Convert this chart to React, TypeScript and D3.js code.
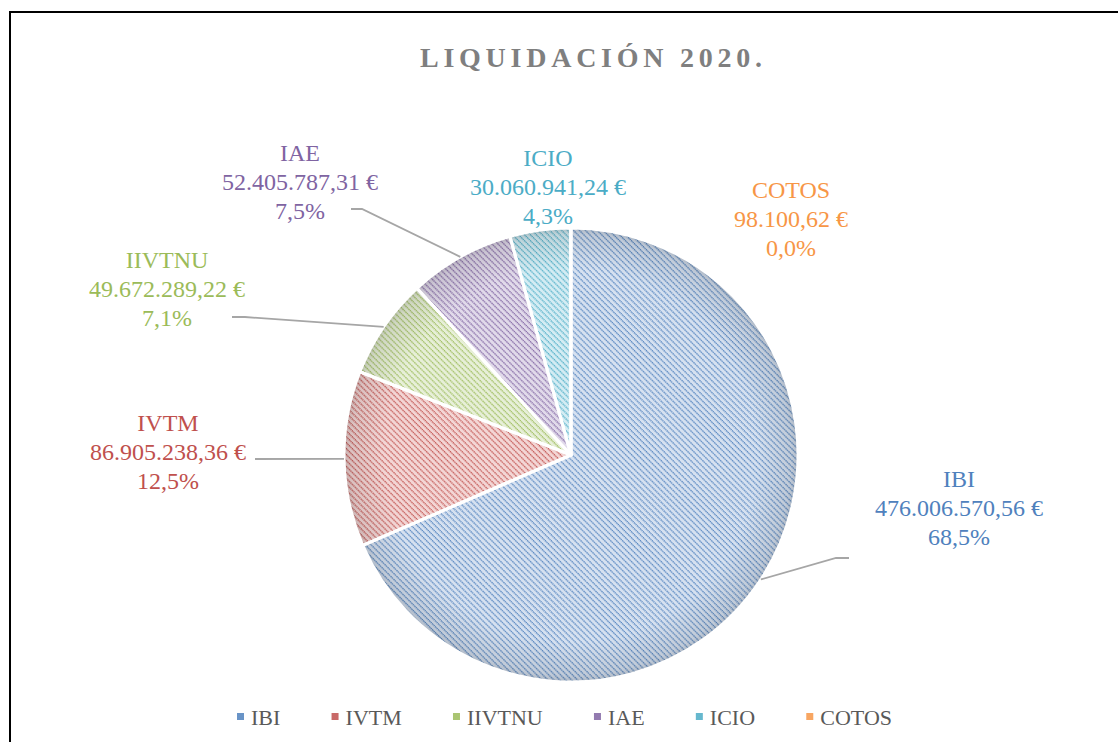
import React from "react";
import * as d3 from "d3";

// datos de la liquidación 2020
const categories = ["IBI", "IVTM", "IIVTNU", "IAE", "ICIO", "COTOS"];
const values = [476006570.56, 86905238.36, 49672289.22, 52405787.31, 30060941.24, 98100.62];
const colors = ["#4F81BD", "#C0504D", "#9BBB59", "#8064A2", "#4BACC6", "#F79646"];
const tints = ["#D6E1F0", "#F3D6D5", "#E7EFD8", "#E1DAEA", "#D4ECF3", "#FDE5D2"];

const title = "LIQUIDACIÓN 2020.";

// placement of the data labels (relative to pie centre)
const labelLayout = [
  { dx: 388, dy: 53, leader: [[278, 103], [265, 103]] },
  { dx: -403, dy: -3, leader: [[-316, 4]] },
  { dx: -404, dy: -166, leader: [[-339, -138], [-326, -138]] },
  { dx: -271, dy: -273, leader: [[-220, -246], [-209, -246]] },
  { dx: -23, dy: -268, leader: null },
  { dx: 220, dy: -236, leader: null },
];

const W = 1118;
const H = 742;
const cx = 571;
const cy = 455;
const radius = 227;
const FONT = "Liberation Serif";

const es = d3.formatLocale({
  decimal: ",",
  thousands: ".",
  grouping: [3],
  currency: ["", " €"],
});
const fmtMoney = es.format("$,.2f");
const fmtPct = es.format(".1%");

const ctx = document.createElement("canvas").getContext("2d")!;
function measure(s: string, size: number, weight = "normal") {
  ctx.font = `${weight} ${size}px "${FONT}"`;
  return ctx.measureText(s).width;
}

export default function App() {
  const total = d3.sum(values);
  const pie = d3.pie<number>().sort(null).value((d) => d);
  const arcs = pie(values);
  const arc = d3.arc<d3.PieArcDatum<number>>().innerRadius(0).outerRadius(radius);

  const edgePoint = (a: d3.PieArcDatum<number>) => {
    const m = (a.startAngle + a.endAngle) / 2;
    return [Math.sin(m) * radius, -Math.cos(m) * radius];
  };

  // title spread between x=420 and x=762
  const titleSize = 28;
  const titleNat = measure(title, titleSize, "bold");
  const titleSpacing = (342 - titleNat) / (title.length - 1);

  // legend: first box at 240, last text ends at 892
  const legendFont = 22;
  const boxGap = 11;
  const widths = categories.map((c) => boxGap + measure(c, legendFont));
  const gap = (652 - d3.sum(widths)) / (categories.length - 1);
  let lx = 0;
  const legendItems = categories.map((c, i) => {
    const item = { c, i, x: lx };
    lx += widths[i] + gap;
    return item;
  });

  return (
    <svg
      width={W}
      height={H}
      style={{ position: "absolute", left: 0, top: 0, background: "#fff" }}
    >
      <defs>
        {categories.map((c, i) => (
          <pattern
            key={c}
            id={`pat-${i}`}
            width={4.2}
            height={4.2}
            patternUnits="userSpaceOnUse"
            patternTransform="rotate(-45)"
          >
            <rect width={4.2} height={4.2} fill={tints[i]} />
            <line x1={1} y1={0} x2={1} y2={4.2} stroke={colors[i]} strokeWidth={1.2} strokeDasharray="1.5 0.6" />
          </pattern>
        ))}
        <radialGradient id="edge" cx="0" cy="0" r={radius} gradientUnits="userSpaceOnUse">
          <stop offset="0.82" stopColor="#000" stopOpacity={0} />
          <stop offset="0.97" stopColor="#000" stopOpacity={0.1} />
          <stop offset="1" stopColor="#000" stopOpacity={0.18} />
        </radialGradient>
      </defs>

      <rect x={10} y={12} width={W + 20} height={H + 20} fill="#fff" stroke="#000" strokeWidth={2} />

      <text
        x={420}
        y={67}
        fontSize={titleSize}
        fontWeight="bold"
        fill="#7F7F7F"
        letterSpacing={titleSpacing}
        style={{ fontFamily: FONT }}
      >
        {title}
      </text>

      <g transform={`translate(${cx},${cy})`}>
        {arcs.map((a, i) => (
          <g key={categories[i]}>
            <path d={arc(a) || ""} fill={`url(#pat-${i})`} />
            <path d={arc(a) || ""} fill="url(#edge)" />
          </g>
        ))}
        {arcs.map((a, i) => (
          <path key={"s" + i} d={arc(a) || ""} fill="none" stroke="#fff" strokeWidth={3} strokeLinejoin="round" />
        ))}

        {arcs.map((a, i) => {
          const L = labelLayout[i];
          if (!L.leader) return null;
          const pts = [...L.leader, edgePoint(a)] as [number, number][];
          return (
            <path
              key={"l" + i}
              d={d3.line()(pts) || ""}
              fill="none"
              stroke="#A6A6A6"
              strokeWidth={1.8}
            />
          );
        })}

        {arcs.map((a, i) => {
          const L = labelLayout[i];
          const lines = [categories[i], fmtMoney(values[i]), fmtPct(values[i] / total)];
          return (
            <text
              key={"t" + i}
              x={L.dx}
              y={L.dy}
              textAnchor="middle"
              fontSize={24}
              fill={colors[i]}
              style={{ fontFamily: FONT }}
            >
              {lines.map((t, k) => (
                <tspan key={k} x={L.dx} y={L.dy + (k - 1) * 29 + 8}>
                  {t}
                </tspan>
              ))}
            </text>
          );
        })}
      </g>

      <g transform="translate(240,717)">
        {legendItems.map((it) => (
          <g key={it.c} transform={`translate(${it.x},0)`}>
            <rect x={-3} y={-4} width={7} height={7} fill={colors[it.i]} opacity={0.85} />
            <text x={boxGap} y={7.5} fontSize={legendFont} fill="#595959" style={{ fontFamily: FONT }}>
              {it.c}
            </text>
          </g>
        ))}
      </g>
    </svg>
  );
}
